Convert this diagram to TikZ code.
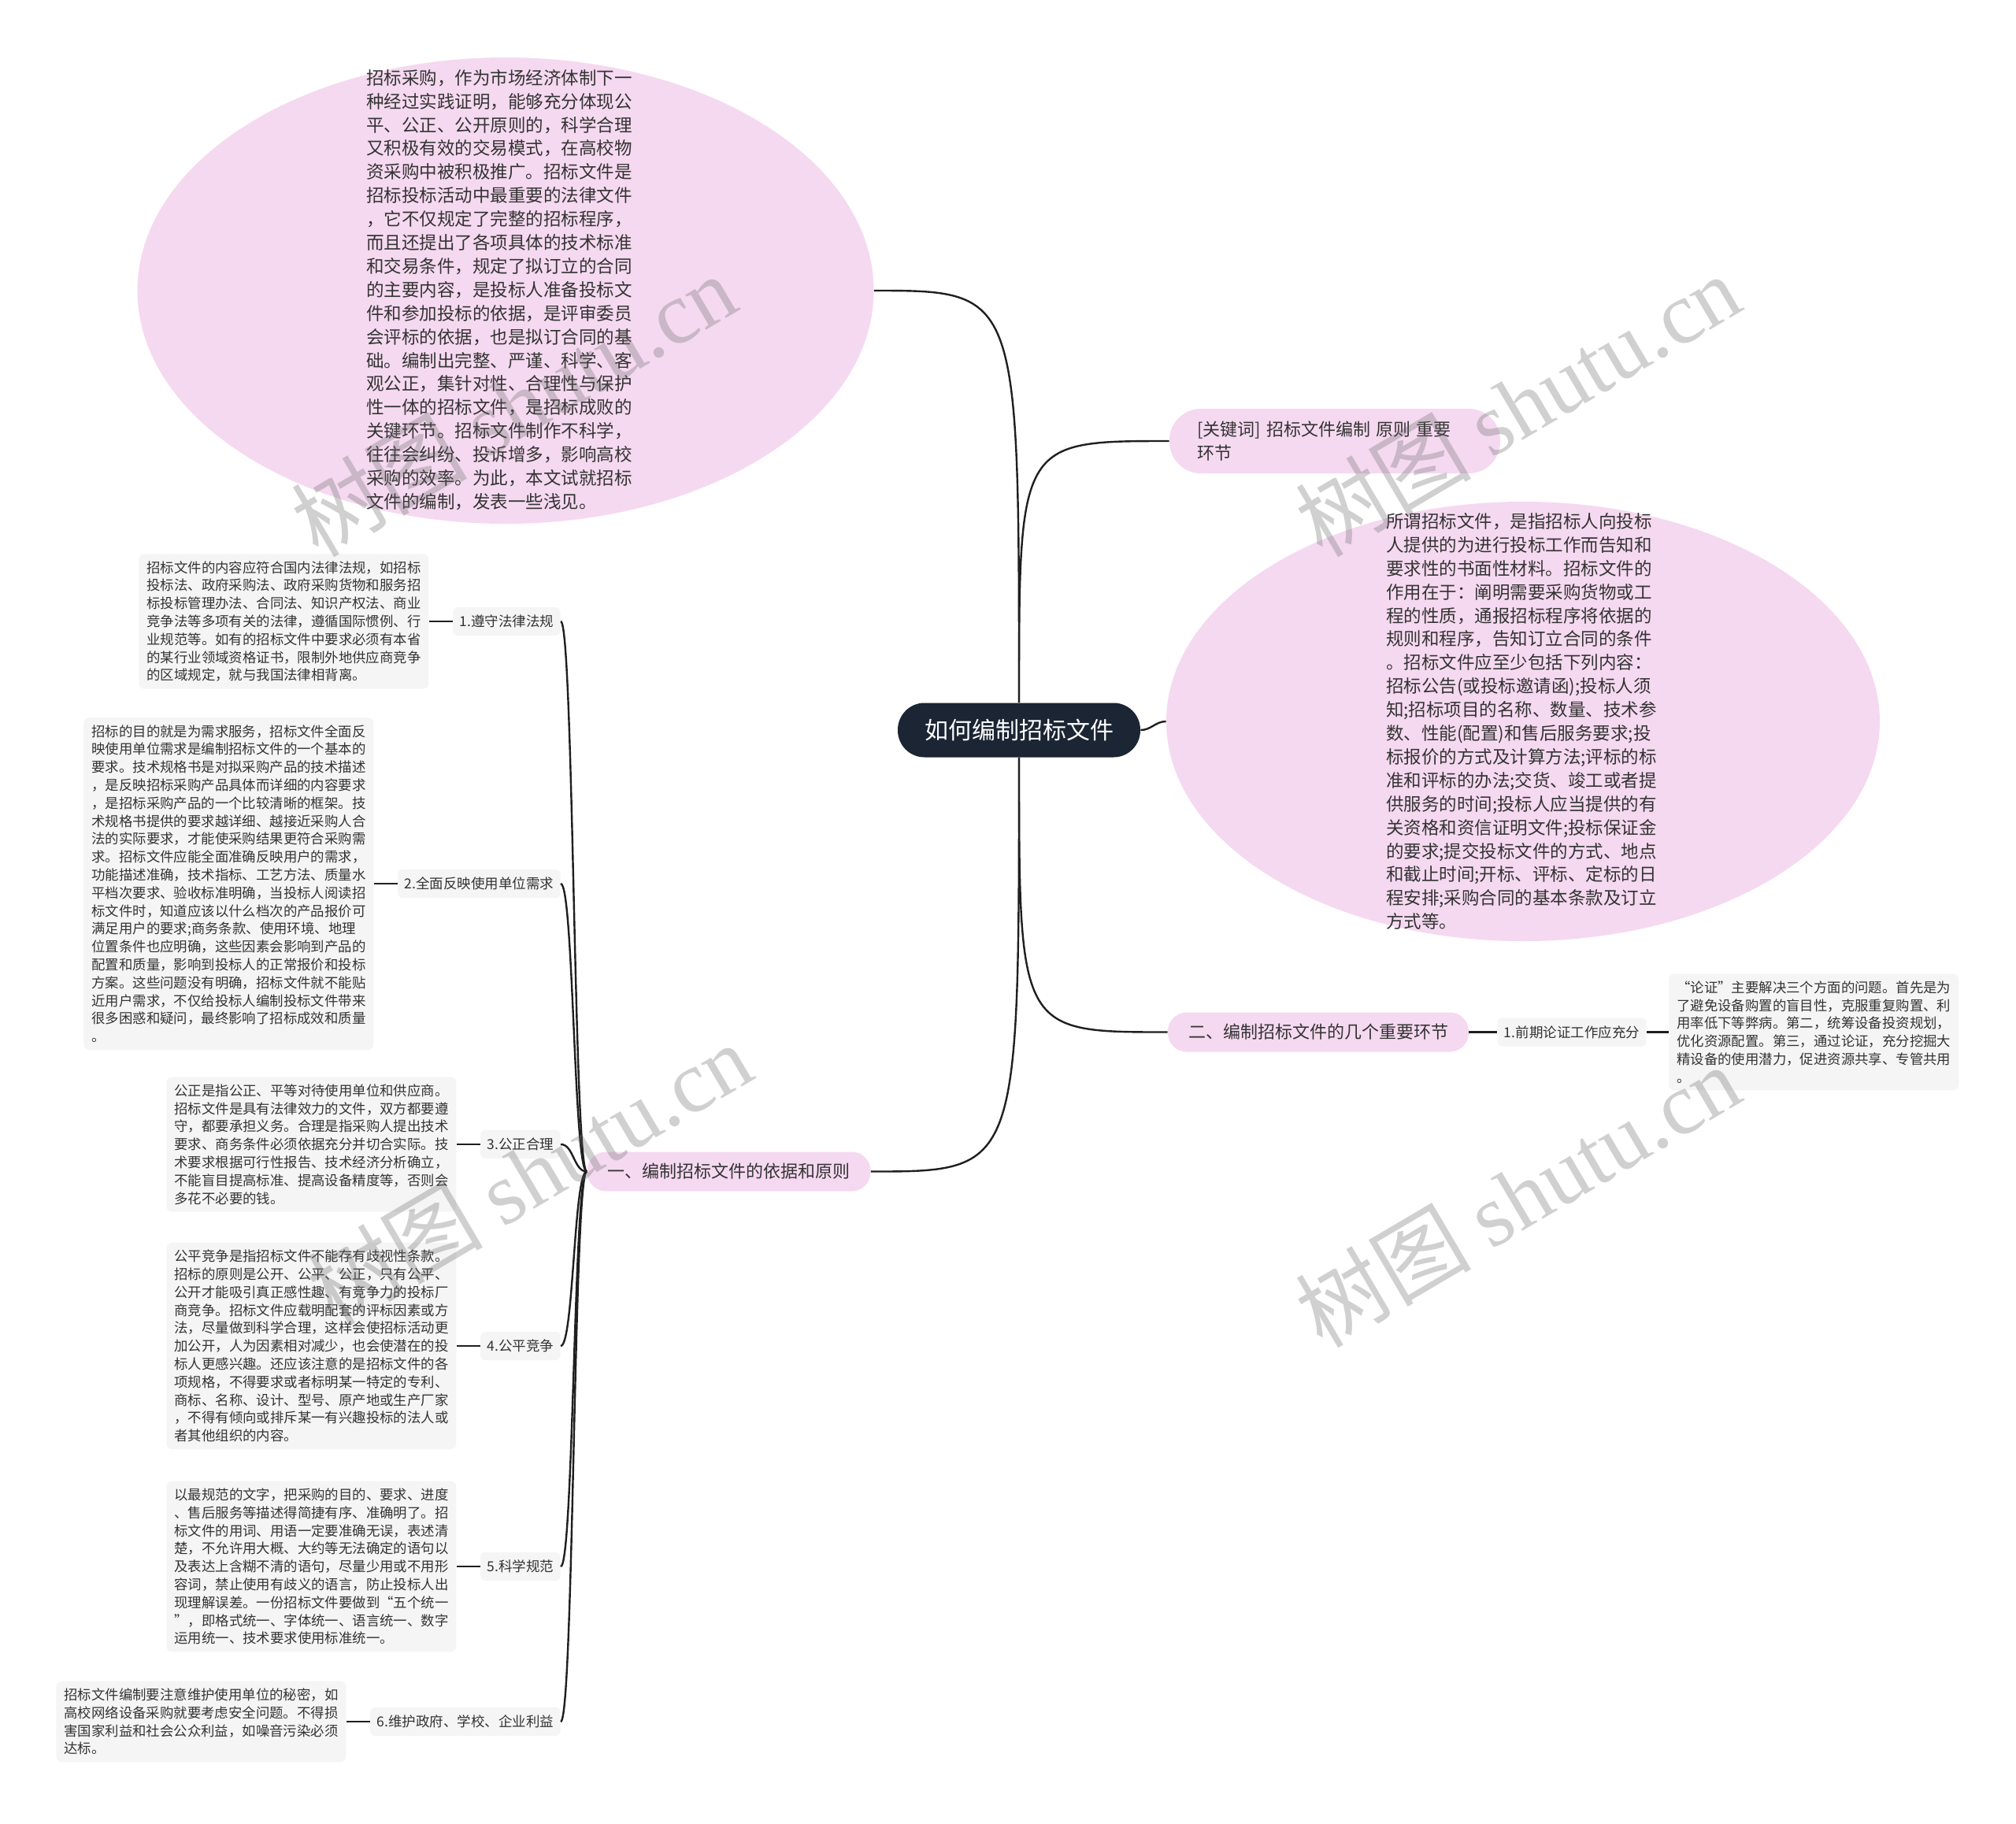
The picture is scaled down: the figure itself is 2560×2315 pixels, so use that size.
\documentclass[tikz,border=0pt]{standalone}
\usepackage{fontspec}
\usepackage{xcolor}
\usepackage{tikz}
\usetikzlibrary{positioning,shapes.geometric,calc}
\newfontfamily\cjk{Noto Sans CJK SC}
\newfontfamily\wmlatin{Liberation Serif}
\definecolor{Ink}{HTML}{1F1F1F}
\definecolor{Txt}{HTML}{333333}
\definecolor{Navy}{HTML}{1B2533}
\definecolor{Blush}{HTML}{F5D9F0}
\definecolor{Mist}{HTML}{F5F5F5}

\begin{document}
\begin{tikzpicture}[
  x=0.5pt,
  y=-0.5pt,
  every node/.style={
    font=\cjk,
    text=Txt,
    inner sep=0pt
  },
  rootbox/.style={
    fill=Navy,
    text=white,
    rounded corners=17pt,
    minimum width=154pt,
    minimum height=34.5pt,
    font=\cjk\fontsize{15pt}{18pt}\selectfont
  },
  bubble/.style={
    ellipse,
    fill=Blush
  },
  bubbletext/.style={
    align=left,
    font=\cjk\fontsize{11.25pt}{14.95pt}\selectfont
  },
  kwbox/.style={
    fill=Blush,
    rounded corners=20pt,
    align=left,
    text width=175pt,
    inner xsep=17.5pt,
    minimum height=41pt,
    font=\cjk\fontsize{11pt}{14.7pt}\selectfont
  },
  branch/.style={
    fill=Blush,
    rounded corners=12pt,
    inner xsep=13pt,
    minimum height=25pt,
    font=\cjk\fontsize{11pt}{13pt}\selectfont
  },
  leaf/.style={
    fill=Mist,
    rounded corners=3pt,
    inner xsep=4.2pt,
    minimum height=18pt,
    font=\cjk\fontsize{8.75pt}{10pt}\selectfont
  },
  detail/.style={
    fill=Mist,
    rounded corners=3.5pt,
    align=left,
    inner xsep=5pt,
    inner ysep=4.5pt,
    font=\cjk\fontsize{8.7pt}{11.4pt}\selectfont
  },
  link/.style={
    draw=Ink,
    line width=1.2pt
  },
  wmark/.style={
    rotate=30.5,
    text=black!60,
    opacity=.3,
    font=\cjk\fontsize{56pt}{56pt}\selectfont
  }
]

\useasboundingbox (0,0) rectangle (2560,2315);
\fill[white] (0,0) rectangle (2560,2315);

\node[rootbox] (root) at (1294,927) {如何编制招标文件};

\node[
  bubble,
  minimum width=467.5pt,
  minimum height=296pt
] (intro) at (642,369) {};

\node[bubbletext] (introtext) at (634,368)
{招标采购，作为市场经济体制下一\\
种经过实践证明，能够充分体现公\\
平、公正、公开原则的，科学合理\\
又积极有效的交易模式，在高校物\\
资采购中被积极推广。招标文件是\\
招标投标活动中最重要的法律文件\\
，它不仅规定了完整的招标程序，\\
而且还提出了各项具体的技术标准\\
和交易条件，规定了拟订立的合同\\
的主要内容，是投标人准备投标文\\
件和参加投标的依据，是评审委员\\
会评标的依据，也是拟订合同的基\\
础。编制出完整、严谨、科学、客\\
观公正，集针对性、合理性与保护\\
性一体的招标文件，是招标成败的\\
关键环节。招标文件制作不科学，\\
往往会纠纷、投诉增多，影响高校\\
采购的效率。为此，本文试就招标\\
文件的编制，发表一些浅见。};

\node[kwbox] (kw) at (1695,560)
{[关键词] 招标文件编制 原则 重要\\环节};

\node[
  bubble,
  minimum width=453pt,
  minimum height=279pt
] (defn) at (1934,916) {};

\node[bubbletext] (defntext) at (1932,916)
{所谓招标文件，是指招标人向投标\\
人提供的为进行投标工作而告知和\\
要求性的书面性材料。招标文件的\\
作用在于：阐明需要采购货物或工\\
程的性质，通报招标程序将依据的\\
规则和程序，告知订立合同的条件\\
。招标文件应至少包括下列内容：\\
招标公告(或投标邀请函);投标人须\\
知;招标项目的名称、数量、技术参\\
数、性能(配置)和售后服务要求;投\\
标报价的方式及计算方法;评标的标\\
准和评标的办法;交货、竣工或者提\\
供服务的时间;投标人应当提供的有\\
关资格和资信证明文件;投标保证金\\
的要求;提交投标文件的方式、地点\\
和截止时间;开标、评标、定标的日\\
程安排;采购合同的基本条款及订立\\
方式等。};

\node[branch] (sec2) at (1674,1310.5) {二、编制招标文件的几个重要环节};

\node[leaf] (s21) at (1996,1310.5) {1.前期论证工作应充分};

\node[detail, right=14pt of s21] (d21)
{“论证”主要解决三个方面的问题。首先是为\\
了避免设备购置的盲目性，克服重复购置、利\\
用率低下等弊病。第二，统筹设备投资规划，\\
优化资源配置。第三，通过论证，充分挖掘大\\
精设备的使用潜力，促进资源共享、专管共用\\
。};

\node[branch] (sec1) at (925.5,1487.5) {一、编制招标文件的依据和原则};

\node[leaf, anchor=east] (s1) at (712,789) {1.遵守法律法规};
\node[leaf, anchor=east] (s2) at (712,1122) {2.全面反映使用单位需求};
\node[leaf, anchor=east] (s3) at (712,1453) {3.公正合理};
\node[leaf, anchor=east] (s4) at (712,1709) {4.公平竞争};
\node[leaf, anchor=east] (s5) at (712,1989) {5.科学规范};
\node[leaf, anchor=east] (s6) at (712,2186) {6.维护政府、学校、企业利益};

\node[detail, left=15pt of s1] (d1)
{招标文件的内容应符合国内法律法规，如招标\\
投标法、政府采购法、政府采购货物和服务招\\
标投标管理办法、合同法、知识产权法、商业\\
竞争法等多项有关的法律，遵循国际惯例、行\\
业规范等。如有的招标文件中要求必须有本省\\
的某行业领域资格证书，限制外地供应商竞争\\
的区域规定，就与我国法律相背离。};

\node[detail, left=15pt of s2] (d2)
{招标的目的就是为需求服务，招标文件全面反\\
映使用单位需求是编制招标文件的一个基本的\\
要求。技术规格书是对拟采购产品的技术描述\\
，是反映招标采购产品具体而详细的内容要求\\
，是招标采购产品的一个比较清晰的框架。技\\
术规格书提供的要求越详细、越接近采购人合\\
法的实际要求，才能使采购结果更符合采购需\\
求。招标文件应能全面准确反映用户的需求，\\
功能描述准确，技术指标、工艺方法、质量水\\
平档次要求、验收标准明确，当投标人阅读招\\
标文件时，知道应该以什么档次的产品报价可\\
满足用户的要求;商务条款、使用环境、地理\\
位置条件也应明确，这些因素会影响到产品的\\
配置和质量，影响到投标人的正常报价和投标\\
方案。这些问题没有明确，招标文件就不能贴\\
近用户需求，不仅给投标人编制投标文件带来\\
很多困惑和疑问，最终影响了招标成效和质量\\
。};

\node[detail, left=15pt of s3] (d3)
{公正是指公正、平等对待使用单位和供应商。\\
招标文件是具有法律效力的文件，双方都要遵\\
守，都要承担义务。合理是指采购人提出技术\\
要求、商务条件必须依据充分并切合实际。技\\
术要求根据可行性报告、技术经济分析确立，\\
不能盲目提高标准、提高设备精度等，否则会\\
多花不必要的钱。};

\node[detail, left=15pt of s4] (d4)
{公平竞争是指招标文件不能存有歧视性条款。\\
招标的原则是公开、公平、公正，只有公平、\\
公开才能吸引真正感性趣、有竞争力的投标厂\\
商竞争。招标文件应载明配套的评标因素或方\\
法，尽量做到科学合理，这样会使招标活动更\\
加公开，人为因素相对减少，也会使潜在的投\\
标人更感兴趣。还应该注意的是招标文件的各\\
项规格，不得要求或者标明某一特定的专利、\\
商标、名称、设计、型号、原产地或生产厂家\\
，不得有倾向或排斥某一有兴趣投标的法人或\\
者其他组织的内容。};

\node[detail, left=15pt of s5] (d5)
{以最规范的文字，把采购的目的、要求、进度\\
、售后服务等描述得简捷有序、准确明了。招\\
标文件的用词、用语一定要准确无误，表述清\\
楚，不允许用大概、大约等无法确定的语句以\\
及表达上含糊不清的语句，尽量少用或不用形\\
容词，禁止使用有歧义的语言，防止投标人出\\
现理解误差。一份招标文件要做到“五个统一\\
”，即格式统一、字体统一、语言统一、数字\\
运用统一、技术要求使用标准统一。};

\node[detail, left=15pt of s6] (d6)
{招标文件编制要注意维护使用单位的秘密，如\\
高校网络设备采购就要考虑安全问题。不得损\\
害国家利益和社会公众利益，如噪音污染必须\\
达标。};

\draw[link] (root.north) .. controls (root.north |- intro.east) .. (intro.east);
\draw[link] (root.north) .. controls (root.north |- kw.west) .. (kw.west);
\draw[link] (root.east) to[out=0,in=180] (defn.west);
\draw[link] (root.south) .. controls (root.south |- sec2.west) .. (sec2.west);
\draw[link] (root.south) .. controls (root.south |- sec1.east) .. (sec1.east);

\draw[link] (sec2.east) -- (s21.west);
\draw[link] (s21.east) -- (d21.west);

\foreach \leafname in {s1,s2,s3,s4,s5,s6}{
  \draw[link] let \p1=(sec1.west), \p2=(\leafname.east) in
    (\p1) .. controls ({(\x1+\x2)/2},\y1) and ({(\x1+\x2)/2},\y2) .. (\p2);
}

\foreach \k in {1,...,6}{
  \draw[link] (s\k.west) -- (d\k.east);
}

\node[wmark] (wm1) at (652,514) {树图 {\wmlatin shutu.cn}};
\node[wmark] (wm2) at (1927,514) {树图 {\wmlatin shutu.cn}};
\node[wmark] (wm3) at (672,1490) {树图 {\wmlatin shutu.cn}};
\node[wmark] (wm4) at (1927,1518) {树图 {\wmlatin shutu.cn}};

\end{tikzpicture}
\end{document}
